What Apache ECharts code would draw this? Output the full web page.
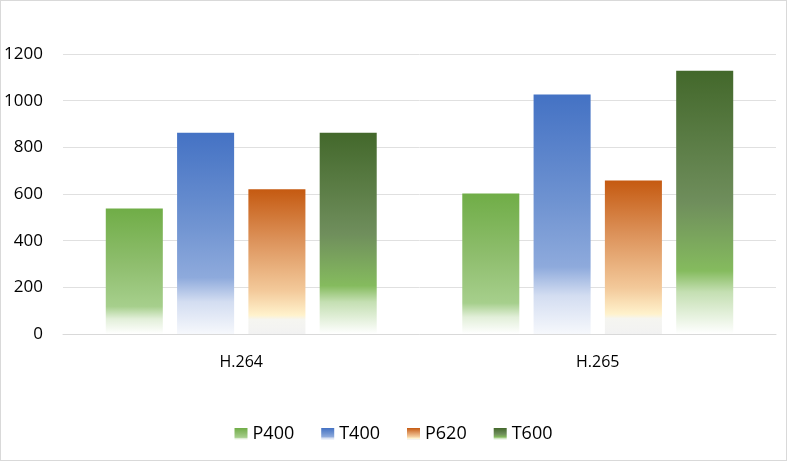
<!DOCTYPE html>
<html><head><meta charset="utf-8">
<script src="https://cdn.jsdelivr.net/npm/echarts@6/dist/echarts.min.js"></script>
<style>html,body{margin:0;padding:0;background:#fff}#c{width:787px;height:461px;box-sizing:border-box;border:1px solid #d9d9d9}</style>
</head><body><div id="c"></div>
<script>
var categories = ['H.264', 'H.265'];
var seriesNames = ['P400', 'T400', 'P620', 'T600'];
var P400 = [538, 602];
var T400 = [863, 1026];
var P620 = [620, 658];
var T600 = [863, 1128];
var yTicks = [0, 200, 400, 600, 800, 1000, 1200];

function grad(stops){
  return new echarts.graphic.LinearGradient(0,0,0,1, stops.map(function(s){return {offset:s[0], color:s[1]};}));
}
var fills = {
  P400: grad([[0,'#70ad47'],[0.45,'#8fbe6e'],[0.78,'#a6cf8c'],[0.88,'#e2efd9'],[1,'#ffffff']]),
  T400: grad([[0,'#4472c4'],[0.45,'#6f93d1'],[0.72,'#8eaadc'],[0.84,'#d3ddf1'],[1,'#f6f8fc']]),
  P620: grad([[0,'#c55a11'],[0.35,'#dc925a'],[0.7,'#f3c99a'],[0.87,'#fff2cc'],[0.9,'#f5f5f0'],[1,'#f2f2f2']]),
  T600: grad([[0,'#43682b'],[0.5,'#6f8e5c'],[0.76,'#85bb5e'],[0.84,'#c4dfb2'],[1,'#ffffff']])
};
var dataMap = {P400:P400, T400:T400, P620:P620, T600:T600};

var chart = echarts.init(document.getElementById('c'));
chart.setOption({
  animation:false,
  textStyle:{fontFamily:'Open Sans'},
  grid:{left:62, right:10, top:53, bottom:126, containLabel:false},
  legend:{
    bottom:12, left:'center', itemWidth:13, itemHeight:12, itemGap:27,
    icon:'rect',
    textStyle:{fontSize:18, color:'#000', fontFamily:'Open Sans'},
    data:seriesNames
  },
  xAxis:{
    type:'category', data:categories,
    axisLine:{lineStyle:{color:'#d9d9d9'}},
    axisTick:{show:false},
    axisLabel:{fontSize:16, color:'#000', margin:20}
  },
  yAxis:{
    type:'value', min:0, max:1200, interval:200,
    axisLine:{show:false}, axisTick:{show:false},
    splitLine:{lineStyle:{color:'#e0e0e0'}},
    axisLabel:{fontSize:17, color:'#000', margin:20, formatter:function(v){return String(v);}}
  },
  series: seriesNames.map(function(n){
    return {name:n, type:'bar', data:dataMap[n], barGap:'25%', barCategoryGap:'24%',
      itemStyle:{color:fills[n]}};
  })
});
</script></body></html>
